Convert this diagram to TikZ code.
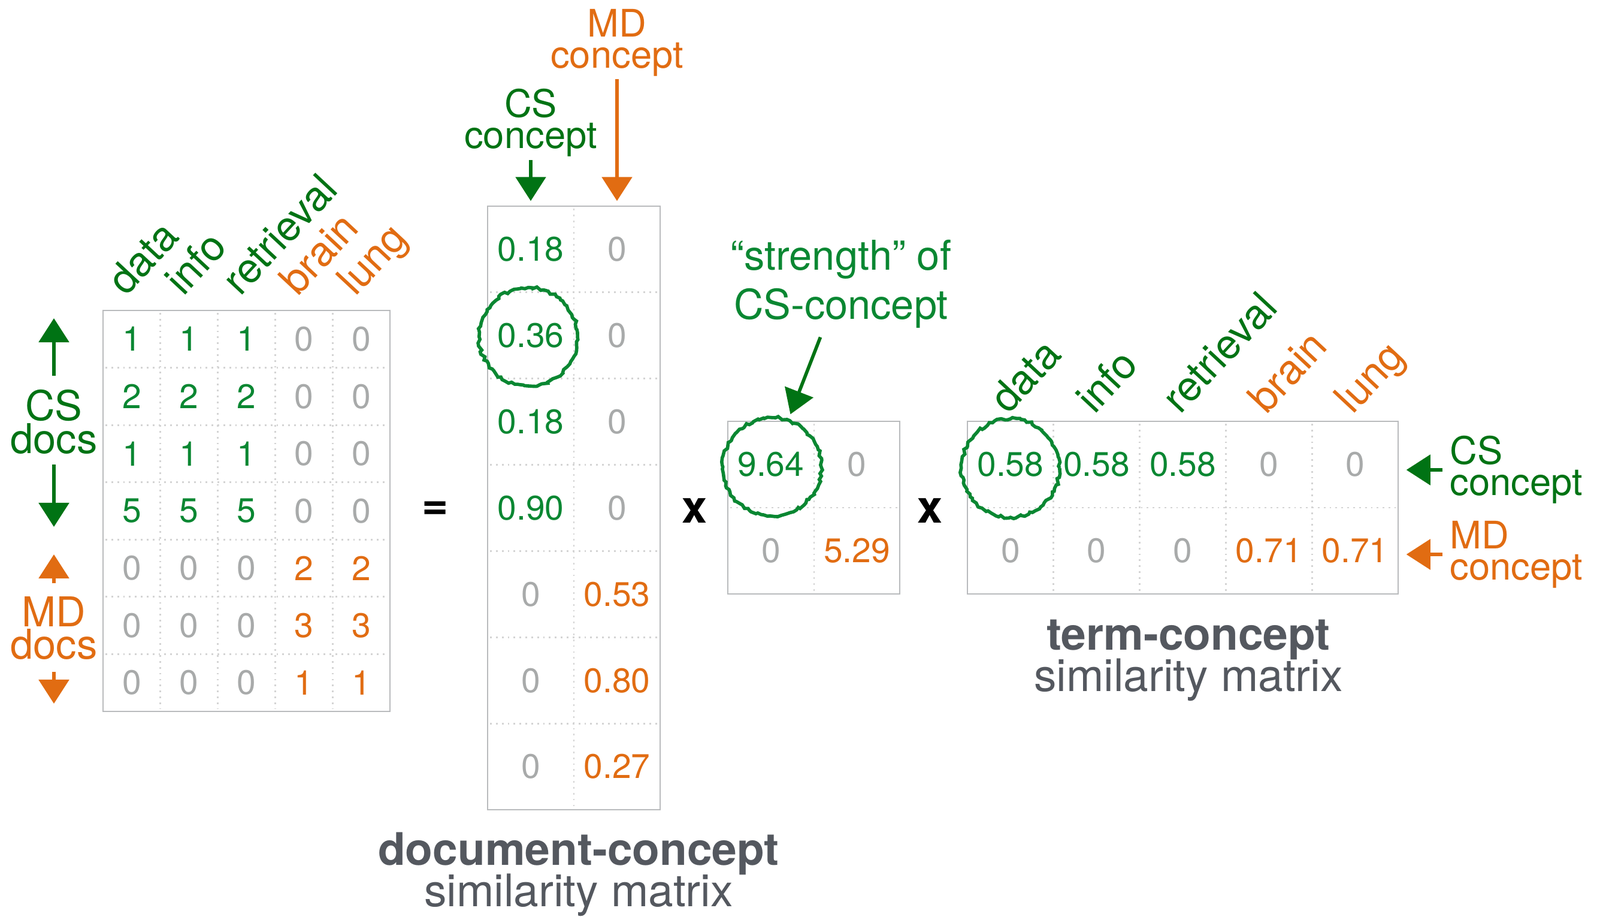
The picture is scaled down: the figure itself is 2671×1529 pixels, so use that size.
\documentclass[tikz,border=0pt]{standalone}
\usepackage{fontspec}
\setmainfont{TeX Gyre Heros}
\usepackage{xcolor}
\usepackage{tikz}
\usetikzlibrary{arrows.meta,positioning,calc,decorations.pathmorphing}

\definecolor{csgreen}{RGB}{10,135,50}
\definecolor{labgreen}{RGB}{0,115,20}
\definecolor{mdorange}{RGB}{225,108,18}
\definecolor{zerogray}{RGB}{168,170,170}
\definecolor{boxgray}{RGB}{185,187,189}
\definecolor{gridgray}{RGB}{212,212,212}
\definecolor{capgray}{RGB}{84,88,95}

\newcommand{\cellfont}{\fontsize{16.2}{19}\selectfont}
\newcommand{\termfont}{\fontsize{19.6}{22}\selectfont}
\newcommand{\labfont}{\fontsize{19.5}{15.6}\selectfont}
\newcommand{\conceptfont}{\fontsize{18}{14.7}\selectfont}
\newcommand{\notefont}{\fontsize{19.5}{23.5}\selectfont}
\newcommand{\capfont}{\fontsize{21.3}{25}\selectfont}
\newcommand{\opfont}{\fontsize{21.5}{25}\selectfont\bfseries}

\begin{document}
\begin{tikzpicture}[x=0.01cm, y=-0.01cm,
    box/.style={draw=boxgray, line width=0.8pt},
    divider/.style={draw=gridgray, line width=0.8pt, dash pattern=on 0.8pt off 2pt},
    cellL/.style={inner sep=0pt, minimum width=0.958cm, minimum height=0.956cm, font=\cellfont},
    cellM/.style={inner sep=0pt, minimum size=1.438cm, font=\cellfont},
    term/.style={rotate=47, anchor=base west, inner sep=0pt, font=\termfont},
    lab/.style={align=center, inner sep=0pt, font=\labfont},
    conc/.style={align=center, inner sep=0pt, font=\conceptfont},
    arr/.style={line width=1.6pt, -{Triangle[width=0.5cm, length=0.4cm]}},
    ring/.style={draw=csgreen, line width=1.6pt, decorate,
        decoration={random steps, segment length=1.4pt, amplitude=0.7pt}},
    captxt/.style={text=capgray, inner sep=0pt, anchor=base, font=\capfont}]

    \useasboundingbox (0,0) rectangle (2671,1529);
    \fill[white] (0,0) rectangle (2671,1529);

    % document-term matrix
    \draw[box] (172,518) rectangle (651,1187);
    \foreach \col in {1,...,4} \draw[divider] ({172+\col*95.8},522) -- ({172+\col*95.8},1183);
    \foreach \row in {1,...,6} \draw[divider] (176,{518+\row*95.57}) -- (647,{518+\row*95.57});
    \foreach \vals [count=\row] in {{1,1,1,0,0},{2,2,2,0,0},{1,1,1,0,0},{5,5,5,0,0},{0,0,0,2,2},{0,0,0,3,3},{0,0,0,1,1}}
        \foreach \v [count=\col] in \vals {
            \ifdim\v pt=0pt \def\clr{zerogray}\else\ifnum\col<4 \def\clr{csgreen}\else\def\clr{mdorange}\fi\fi
            \node[cellL, text=\clr] (dt-\row-\col) at ({172+(\col-0.5)*95.8},{518+(\row-0.5)*95.57}) {\v};
        }
    \foreach \w/\clr [count=\col] in {data/labgreen, info/labgreen, retrieval/labgreen, brain/mdorange, lung/mdorange}
        \node[term, text=\clr] (dt-h\col) at ({172+(\col-0.5)*95.8-10},496) {\w};

    % doc groups
    \node[lab, text=labgreen] (csdocs) at (90,704) {CS\\docs};
    \node[lab, text=mdorange] (mddocs) at (90,1048) {MD\\docs};
    \coordinate (csdocs-up) at (90,531);
    \coordinate (csdocs-dn) at (90,879);
    \coordinate (mddocs-up) at (90,925);
    \coordinate (mddocs-dn) at (90,1174);
    \draw[arr, labgreen, shorten <=0.23cm] (csdocs.north) -- (csdocs-up);
    \draw[arr, labgreen, shorten <=0.17cm] (csdocs.south) -- (csdocs-dn);
    \draw[arr, mdorange, shorten <=0.21cm] (mddocs.north) -- (mddocs-up);
    \draw[arr, mdorange, shorten <=0.19cm] (mddocs.south) -- (mddocs-dn);

    \node[font=\opfont] (eq) at (727,852) {=};

    % document-concept matrix
    \draw[box] (814,344) rectangle (1102,1351);
    \draw[divider] (958,348) -- (958,1347);
    \foreach \row in {1,...,6} \draw[divider] (818,{344+\row*143.86}) -- (1098,{344+\row*143.86});
    \foreach \vals [count=\row] in {{0.18,0},{0.36,0},{0.18,0},{0.90,0},{0,0.53},{0,0.80},{0,0.27}}
        \foreach \v [count=\col] in \vals {
            \ifdim\v pt=0pt \def\clr{zerogray}\else\ifnum\col=1 \def\clr{csgreen}\else\def\clr{mdorange}\fi\fi
            \node[cellM, text=\clr] (dc-\row-\col) at ({814+(\col-0.5)*144},{344+(\row-0.5)*143.86}) {\v};
        }
    \node[conc, text=labgreen] (cscon) at (886,205) {CS\\concept};
    \node[conc, text=mdorange] (mdcon) at (1030,71) {MD\\concept};
    \draw[arr, labgreen, shorten <=0.05cm, shorten >=0.08cm] (cscon) -- (dc-1-1);
    \draw[arr, mdorange, shorten <=0.04cm, shorten >=0.08cm] (mdcon) -- (dc-1-2);
    \draw[ring] ($(dc-2-1.center)+(-4,2)$) circle [radius=82];

    \node[captxt, font=\capfont\bfseries] (dctitle) at (966,1443) {document-concept};
    \node[captxt, below=0.69cm of dctitle.base, anchor=base] (dcsub) {similarity matrix};

    \node[font=\opfont] (times1) at (1160,852) {x};

    % concept strengths
    \draw[box] (1215,703) rectangle (1502,991);
    \draw[divider] (1359,707) -- (1359,987);
    \draw[divider] (1219,847) -- (1498,847);
    \foreach \vals [count=\row] in {{9.64,0},{0,5.29}}
        \foreach \v [count=\col] in \vals {
            \ifdim\v pt=0pt \def\clr{zerogray}\else\ifnum\col=1 \def\clr{csgreen}\else\def\clr{mdorange}\fi\fi
            \node[cellM, text=\clr] (s-\row-\col) at ({1215+(\col-0.5)*143.75},{703+(\row-0.5)*144}) {\v};
        }
    \draw[ring] ($(s-1-1.center)+(2,4)$) circle [radius=82];
    \node[align=center, inner sep=0pt, font=\notefont, text=csgreen] (strength) at (1404,474) {``strength'' of\\CS-concept};
    \draw[arr, labgreen, shorten <=0.15cm, shorten >=0.12cm] (strength) -- (s-1-1);

    \node[font=\opfont] (times2) at (1553,852) {x};

    % term-concept matrix
    \draw[box] (1615,703) rectangle (2334,991);
    \foreach \col in {1,...,4} \draw[divider] ({1615+\col*143.8},707) -- ({1615+\col*143.8},987);
    \draw[divider] (1619,847) -- (2330,847);
    \foreach \vals [count=\row] in {{0.58,0.58,0.58,0,0},{0,0,0,0.71,0.71}}
        \foreach \v [count=\col] in \vals {
            \ifdim\v pt=0pt \def\clr{zerogray}\else\ifnum\col<4 \def\clr{csgreen}\else\def\clr{mdorange}\fi\fi
            \node[cellM, text=\clr] (tc-\row-\col) at ({1615+(\col-0.5)*143.8},{703+(\row-0.5)*144}) {\v};
        }
    \foreach \w/\clr [count=\col] in {data/labgreen, info/labgreen, retrieval/labgreen, brain/mdorange, lung/mdorange}
        \node[term, text=\clr] (tc-h\col) at ({1615+(\col-0.5)*143.8-4},693) {\w};
    \draw[ring] ($(tc-1-1.center)+(0,6)$) circle [radius=82];

    \node[conc, align=left, anchor=west, text=labgreen] (cscon2) at (2420,784) {CS\\concept};
    \node[conc, align=left, anchor=west, text=mdorange] (mdcon2) at (2420,925) {MD\\concept};
    \draw[arr, labgreen, shorten <=0.12cm, shorten >=0.13cm] (cscon2.west) -- (cscon2.west -| tc-1-5.east);
    \draw[arr, mdorange, shorten <=0.12cm, shorten >=0.13cm] (mdcon2.west) -- (mdcon2.west -| tc-2-5.east);

    \node[captxt, font=\capfont\bfseries] (tctitle) at (1984,1084) {term-concept};
    \node[captxt, below=0.69cm of tctitle.base, anchor=base] (tcsub) {similarity matrix};
\end{tikzpicture}
\end{document}
